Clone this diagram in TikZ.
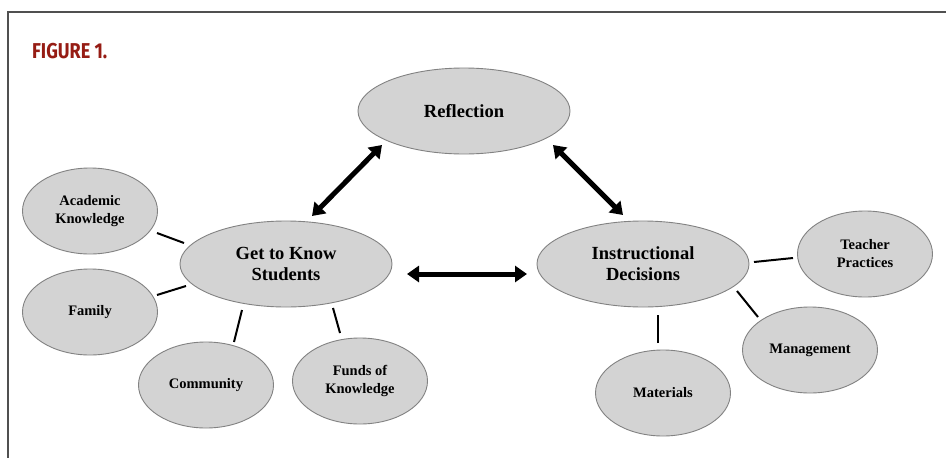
\documentclass[tikz,border=0pt]{standalone}
\usepackage{fontspec}
\setmainfont{Liberation Serif}
\newfontfamily\figfont[FakeStretch=0.84]{Fira Sans}
\usetikzlibrary{shapes.geometric,arrows.meta}
\definecolor{figred}{RGB}{150,28,20}
\definecolor{ellfill}{RGB}{211,211,211}
\definecolor{ellline}{RGB}{130,130,130}
\definecolor{framecol}{RGB}{80,80,80}
\tikzset{
  bigell/.style={ellipse,draw=ellline,line width=0.9pt,fill=ellfill,minimum width=212pt,minimum height=86pt,inner sep=0pt,align=center,font=\fontsize{18.5}{21}\selectfont\bfseries},
  smallell/.style={ellipse,draw=ellline,line width=0.9pt,fill=ellfill,minimum width=135pt,minimum height=86pt,inner sep=0pt,align=center,font=\fontsize{14.5}{18}\selectfont\bfseries},
  bigarrow/.style={line width=5pt,{Triangle[length=12pt,width=16pt]}-{Triangle[length=12pt,width=16pt]}},
  link/.style={line width=2pt,black},
  framel/.style={line width=2pt,draw=framecol}
}
\begin{document}
\begin{tikzpicture}[x=1pt,y=-1pt]
\useasboundingbox (0,0) rectangle (946,458);
\fill[white] (0,0) rectangle (946,458);
\coordinate (fa) at (8,458);
\coordinate (fb) at (8,12);
\coordinate (fc) at (946,12);
\draw[framel] (fa) -- (fb) -- (fc);
\node[anchor=west,text=figred,font=\figfont\fontsize{21.5}{24}\selectfont\bfseries,inner sep=0pt] (fig) at (32,51) {FIGURE 1.};
\node[bigell] (ref) at (464,111) {Reflection};
\node[bigell] (gk) at (286,264) {Get to Know\\Students};
\node[bigell] (id) at (643,264) {Instructional\\Decisions};
\node[smallell] (ak) at (90,211) {Academic\\Knowledge};
\node[smallell] (fam) at (90,312) {Family};
\node[smallell] (com) at (206,385) {Community};
\node[smallell] (fok) at (360,381) {Funds of\\Knowledge};
\node[smallell] (mat) at (663,393) {Materials};
\node[smallell] (man) at (810,350) {Management};
\node[smallell] (tp) at (865,254) {Teacher\\Practices};
% big arrows
\draw[bigarrow] ([shift={(-82,34)}]ref.center) -- ([shift={(26,-48)}]gk.center);
\draw[bigarrow] ([shift={(89,34)}]ref.center) -- ([shift={(-20,-49)}]id.center);
\draw[bigarrow] ([shift={(121,10)}]gk.center) -- ([shift={(-116,10)}]id.center);
% links
\draw[link] ([shift={(67,22)}]ak.center) -- ([shift={(-102,-21)}]gk.center);
\draw[link] ([shift={(67,-17)}]fam.center) -- ([shift={(-100,22)}]gk.center);
\draw[link] ([shift={(28,-43)}]com.center) -- ([shift={(-44,46)}]gk.center);
\draw[link] ([shift={(-20,-48)}]fok.center) -- ([shift={(47,44)}]gk.center);
\draw[link] ([shift={(-72,4)}]tp.center) -- ([shift={(111,-2)}]id.center);
\draw[link] ([shift={(-52,-33)}]man.center) -- ([shift={(94,27)}]id.center);
\draw[link] ([shift={(-5,-50)}]mat.center) -- ([shift={(15,51)}]id.center);
\end{tikzpicture}
\end{document}
